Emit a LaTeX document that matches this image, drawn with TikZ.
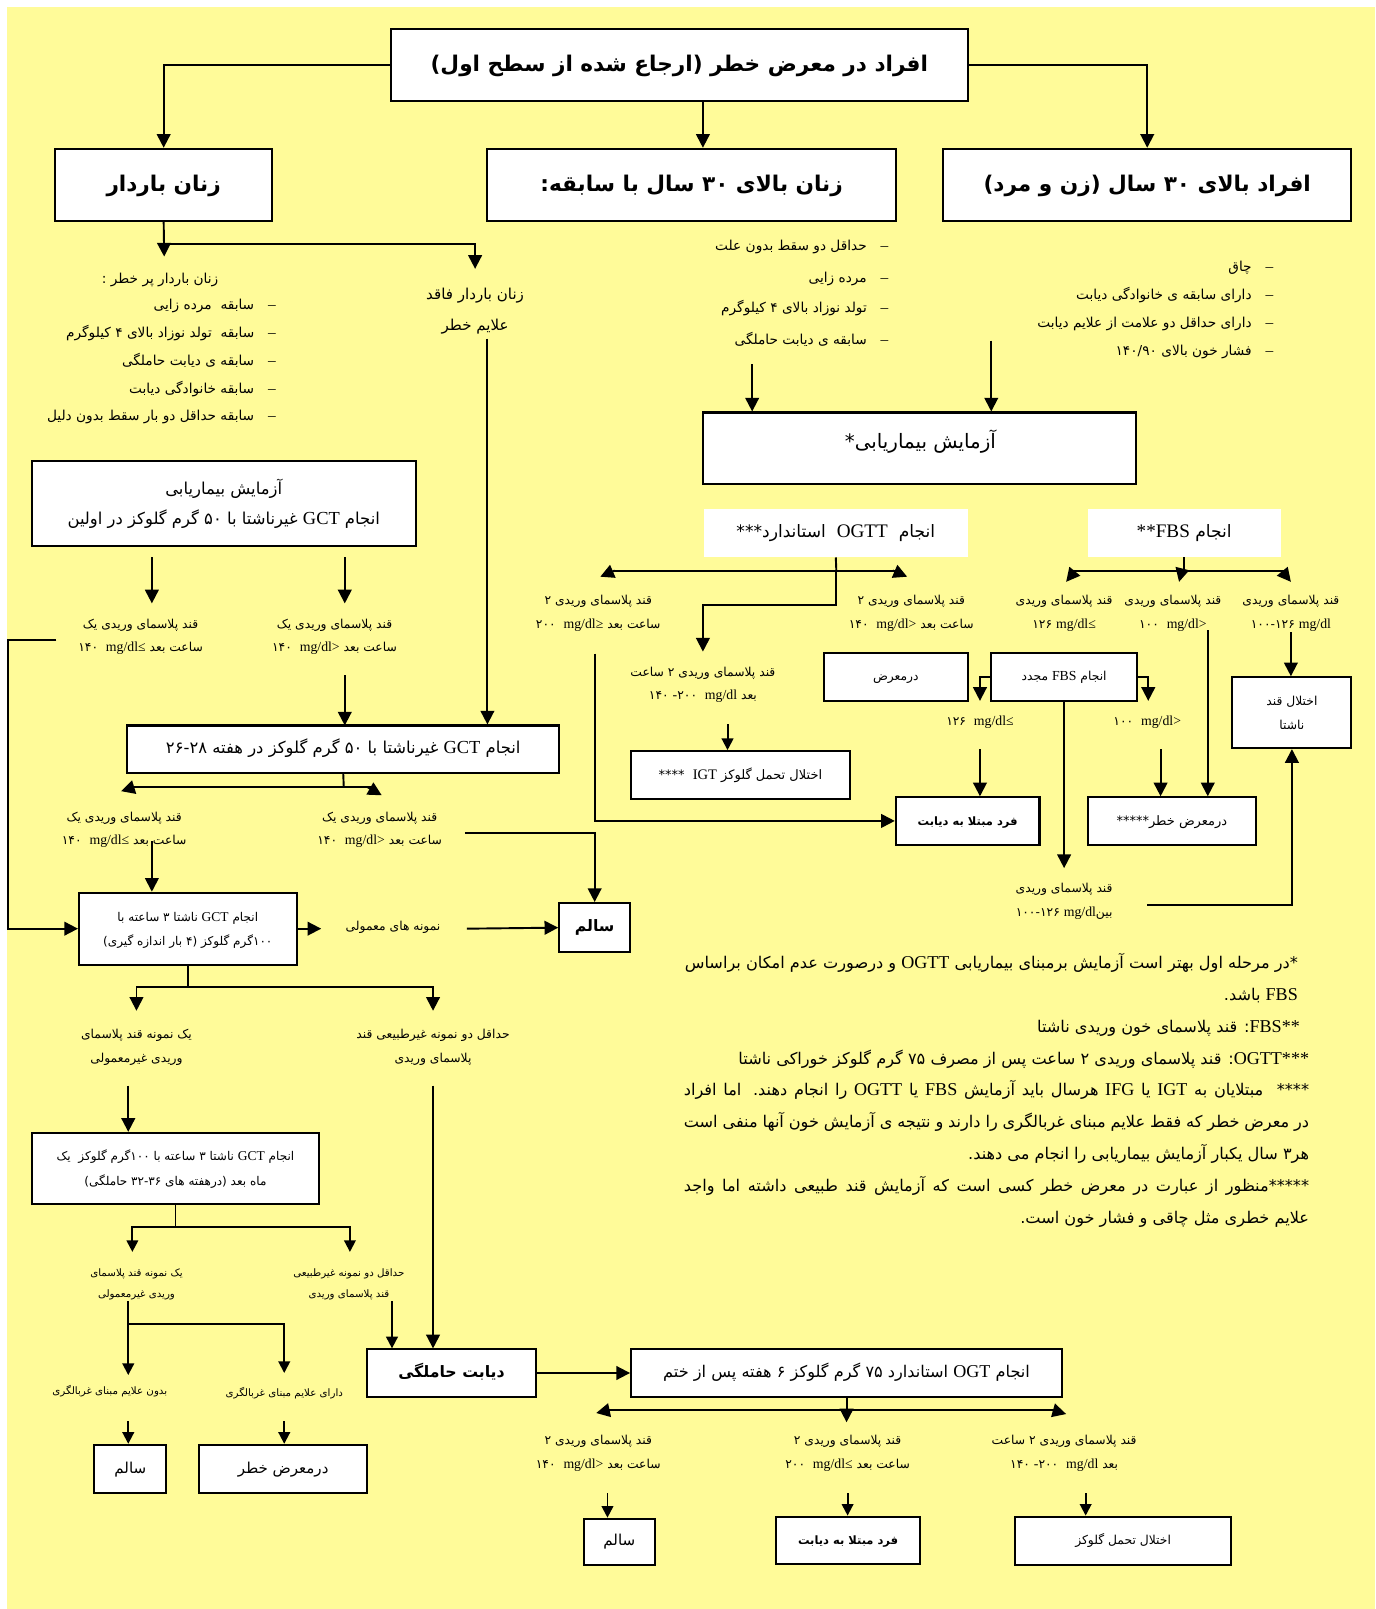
\documentclass[tikz,border=0pt]{standalone}
\usepackage{fontspec}
\usetikzlibrary{arrows.meta,calc}
\TeXXeTstate=1
\newfontfamily\fa[Script=Arabic]{DejaVu Sans}
\newfontfamily\lat{Liberation Serif}[Scale=1.12]
\newcommand\R[1]{\beginR#1\endR}
\newcommand\Lt[1]{\beginL#1\endL}
\newcommand\en[1]{\beginL{\lat#1}\endL}
\newcommand\fsz[2]{\fontsize{#1}{#2}\selectfont}
\newcommand\two[2]{\begin{tabular}{@{}c@{}}#1\\#2\end{tabular}}
\definecolor{bgy}{RGB}{255,251,153}
\newcommand\li[5]{\node[txt,font=\fa\fsz{10}{12}] (#1d) at (#2,#4) {{\lat –}}; \node[txt,anchor=east,font=\fa\fsz{10}{12}] (#1) at (#3,#4) {\R{#5}};}
\newcommand\bxn[7]{\node[#1, minimum width={(#5-#3)*0.75pt}, minimum height={(#6-#4)*0.75pt}] (#2) at ({(#3+#5)/2},{(#4+#6)/2}) {#7};}
\begin{document}
\begin{tikzpicture}[x=0.75pt,y=-0.75pt,
 bx/.style={draw, fill=white, line width=1.5pt, inner sep=0pt},
 wb/.style={fill=white, inner sep=0pt},
 txt/.style={inner sep=0pt, text height=0.65em, text depth=0.05em},
 one/.style={text height=0.65em, text depth=0.05em},
 fbig/.style={font=\fa\bfseries\fsz{15.8}{19}, text height=1.0em, text depth=0.05em},
 flab/.style={font=\fa\fsz{9}{17.2}},
 ftiny/.style={font=\fa\fsz{7.5}{15}},
 fnote/.style={font=\fa\fsz{11.8}{14}},
 ln/.style={line width=1.4pt},
 arr/.style={ln,-{Triangle[length=10pt,width=10pt]}},
 sarr/.style={ln,-{Triangle[length=8.5pt,width=8.5pt]}}]
\fill[white] (0,0) rectangle (1340,1568);
\fill[bgy] (6.5,6.5) rectangle (1340,1568);
\useasboundingbox (0,0) rectangle (1340,1568);

% top level
\bxn{bx, fbig}{T}{381}{28}{943}{98}{\R{افراد در معرض خطر (ارجاع شده از سطح اول)}}
\bxn{bx, fbig}{Zb}{54}{145}{265}{215}{\R{زنان باردار}}
\bxn{bx, fbig}{Z30}{475}{145}{873}{215}{\R{زنان بالای \Lt{۳۰} سال با سابقه:}}
\bxn{bx, fbig}{A30}{919}{145}{1317}{215}{\R{افراد بالای \Lt{۳۰} سال (زن و مرد)}}
\draw[arr] (T.west) -| (Zb.north);
\draw[arr] (685,0 |- T.south) -- (685,0 |- Z30.north);
\draw[arr] (T.east) -| (A30.north);

% pregnant branch
\coordinate (b1) at (160,238);
\draw[arr] (Zb.south) -- (160,250);
\draw[arr] (b1) -| (463,262);
\node[txt,anchor=east,font=\fa\fsz{10}{12}] (p0) at (213,272) {\R{زنان باردار پر خطر :}};
\li{p1}{265}{248}{298}{سابقه~~مرده زایی}
\li{p2}{265}{248}{325}{سابقه~~تولد نوزاد بالای \Lt{۴} کیلوگرم}
\li{p3}{265}{248}{352}{سابقه ی دیابت حاملگی}
\li{p4}{265}{248}{379}{سابقه خانوادگی دیابت}
\li{p5}{265}{248}{406}{سابقه حداقل دو بار سقط بدون دلیل}
\node[inner sep=0pt, font=\fa\fsz{11}{22.5}] (nr) at (463,301) {\two{\R{زنان باردار فاقد}}{\R{علایم خطر}}};

% Z30 list
\li{z1}{862}{845}{240}{حداقل دو سقط بدون علت}
\li{z2}{862}{845}{271}{مرده زایی}
\li{z3}{862}{845}{301}{تولد نوزاد بالای \Lt{۴} کیلوگرم}
\li{z4}{862}{845}{332}{سابقه ی دیابت حاملگی}
% A30 list
\li{a1}{1237}{1220}{261}{چاق}
\li{a2}{1237}{1220}{288}{دارای سابقه ی خانوادگی دیابت}
\li{a3}{1237}{1220}{315}{دارای حداقل دو علامت از علایم دیابت}
\li{a4}{1237}{1220}{342}{فشار خون بالای \Lt{۱۴۰/۹۰}}

% screening
\bxn{bx}{S}{685}{402}{1107}{472}{}
\node[txt, font=\fa\fsz{14.5}{16}] (St) at (897,433) {\R{آزمایش بیماریابی\Lt{*}}};
\draw[arr] (733,355) -- (733,0 |- S.north);
\draw[arr] (966,332) -- (966,0 |- S.north);
\bxn{wb, one, font=\fa\fsz{12.5}{14}}{og}{686}{496}{943}{543}{\R{انجام~~\en{OGTT}~~استاندارد\Lt{***}}}
\bxn{wb, one, font=\fa\fsz{12.5}{14}}{fb}{1060}{496}{1248}{543}{\R{انجام \en{**FBS}}}

% GCT1
\bxn{bx, font=\fa\fsz{12}{22.5}}{g1}{31}{449}{405}{532}{\two{\R{آزمایش بیماریابی}}{\R{انجام \en{GCT} غیرناشتا با \Lt{۵۰} گرم گلوکز در اولین}}}
\draw[arr] (148,543) -- (148,588);
\draw[arr] (336,543) -- (336,588);
\node[inner sep=0pt, flab] (l1) at (137,619) {\two{\R{قند پلاسمای وریدی یک}}{\R{ساعت بعد \Lt{۱۴۰~~\en{mg/dl≤}}}}};
\node[inner sep=0pt, flab] (l2) at (326,619) {\two{\R{قند پلاسمای وریدی یک}}{\R{ساعت بعد \Lt{۱۴۰~~\en{mg/dl>}}}}};
\draw[arr] (336,658) -- (336,707);

% GCT2
\bxn{bx, one, font=\fa\fsz{12}{14}}{g2}{124}{707}{545}{753}{\R{انجام \en{GCT} غیرناشتا با \Lt{۵۰} گرم گلوکز در هفته \Lt{۲۶-۲۸}}}
\draw[arr] (475,330) -- (475,0 |- g2.north);
\draw[ln] (g2.south) -- (335,767);
\draw[ln] (128,767) -- (362,767);
\draw[arr] (131,767) -- (118,771);
\draw[arr] (358,767) -- (372,775);
\node[inner sep=0pt, flab] (l3) at (121,807) {\two{\R{قند پلاسمای وریدی یک}}{\R{ساعت بعد \Lt{۱۴۰~~\en{mg/dl≤}}}}};
\node[inner sep=0pt, flab] (l4) at (370,807) {\two{\R{قند پلاسمای وریدی یک}}{\R{ساعت بعد \Lt{۱۴۰~~\en{mg/dl>}}}}};

% GCT3
\bxn{bx, font=\fa\fsz{8.8}{18}}{g3}{77}{870}{289}{940}{\two{\R{انجام \en{GCT} ناشتا \Lt{۳} ساعته با}}{\R{\Lt{۱۰۰}گرم گلوکز (\Lt{۴} بار اندازه گیری)}}}
\draw[arr] (148,820) -- (148,0 |- g3.north);
\draw[ln] (55,624) -- (8,624) -- (8,800);
\draw[arr] (8,800) |- (g3.west);
\bxn{bx, one, font=\fa\bfseries\fsz{11.5}{14}}{s1}{545}{880}{614}{928}{\R{سالم}}
\draw[arr] (453,812) -| (s1.north);
\draw[arr] (g3.east) -- (313,905);
\node[txt, flab] (nm) at (383,903) {\R{نمونه های معمولی}};
\draw[arr] (455,905) -- (s1.west);
\coordinate (c3) at (183,962);
\draw[ln] (g3.south) -- (c3);
\draw[arr] (c3) -| (133,985);
\draw[arr] (c3) -| (422,985);
\node[inner sep=0pt, flab] (l5) at (133,1019) {\two{\R{یک نمونه قند پلاسمای}}{\R{وریدی غیرمعمولی}}};
\node[inner sep=0pt, flab] (l6) at (422,1019) {\two{\R{حداقل دو نمونه غیرطبیعی قند}}{\R{پلاسمای وریدی}}};

% GCT4
\bxn{bx, font=\fa\fsz{8.8}{18}}{g4}{31}{1104}{311}{1173}{\two{\R{انجام \en{GCT} ناشتا \Lt{۳} ساعته با \Lt{۱۰۰}گرم گلوکز~~یک}}{\R{ماه بعد (درهفته های \Lt{۳۲-۳۶} حاملگی)}}}
\draw[arr] (125,1058) -- (125,0 |- g4.north);
\coordinate (c4) at (171,1196);
\draw[ln] (g4.south) -- (c4);
\draw[sarr] (c4) -| (129,1220);
\draw[sarr] (c4) -| (341,1220);
\node[inner sep=0pt, font=\fa\fsz{7.5}{15}] (l7) at (133,1250) {\two{\R{یک نمونه قند پلاسمای}}{\R{وریدی غیرمعمولی}}};
\node[inner sep=0pt, font=\fa\fsz{7.5}{15}] (l8) at (340,1250) {\two{\R{حداقل دو نمونه غیرطبیعی}}{\R{قند پلاسمای وریدی}}};
\draw[sarr] (125,1268) -- (125,1340);
\draw[sarr] (125,1290) -| (277,1338);
\node[txt, ftiny] (l9) at (107,1355) {\R{بدون علایم مبنای غربالگری}};
\node[txt, ftiny] (l10) at (277,1357) {\R{دارای علایم مبنای غربالگری}};
\bxn{bx, one, font=\fa\fsz{11}{14}}{s2}{92}{1408}{162}{1455}{\R{سالم}}
\bxn{bx, one, font=\fa\fsz{11}{14}}{rk}{194}{1408}{358}{1455}{\R{درمعرض خطر}}
\draw[sarr] (125,1385) -- (125,0 |- s2.north);
\draw[sarr] (277,1385) -- (277,0 |- rk.north);

% gestational diabetes
\bxn{bx, one, font=\fa\bfseries\fsz{11.5}{14}}{dh}{358}{1315}{522}{1361}{\R{دیابت حاملگی}}
\draw[arr] (422,1058) -- (422,0 |- dh.north);
\draw[sarr] (382,1268) -- (382,0 |- dh.north);
\bxn{bx, one, font=\fa\fsz{11.8}{14}}{ogt}{615}{1315}{1035}{1361}{\R{انجام \en{OGT} استاندارد \Lt{۷۵} گرم گلوکز \Lt{۶} هفته پس از ختم}}
\draw[arr] (dh.east) -- (ogt.west);
\draw[ln] (ogt.south) -- (825,1374);
\draw[arr] (825,1370) -- (825,1386);
\draw[ln] (592,1374) -- (1028,1374);
\draw[arr] (595,1374) -- (581,1377);
\draw[arr] (1025,1374) -- (1039,1378);
\node[inner sep=0pt, flab] (l11) at (583,1415) {\two{\R{قند پلاسمای وریدی \Lt{۲}}}{\R{ساعت بعد \Lt{۱۴۰~~\en{mg/dl>}}}}};
\node[inner sep=0pt, flab] (l12) at (826,1415) {\two{\R{قند پلاسمای وریدی \Lt{۲}}}{\R{ساعت بعد \Lt{۲۰۰~~\en{mg/dl≤}}}}};
\node[inner sep=0pt, flab] (l13) at (1037,1415) {\two{\R{قند پلاسمای وریدی \Lt{۲} ساعت}}{\R{بعد \Lt{۱۴۰ {\lat -}۲۰۰~~\en{mg/dl}}}}};
\bxn{bx, one, font=\fa\fsz{11}{14}}{s3}{569}{1480}{638}{1525}{\R{سالم}}
\bxn{bx, one, font=\fa\bfseries\fsz{8.4}{14}}{fm2}{756}{1478}{897}{1524}{\R{فرد مبتلا به دیابت}}
\bxn{bx, one, font=\fa\fsz{9}{14}}{ig2}{989}{1478}{1200}{1525}{\R{اختلال تحمل گلوکز}}
\draw[sarr] (592,1455) -- (592,0 |- s3.north);
\draw[sarr] (826,1455) -- (826,0 |- fm2.north);
\draw[sarr] (1058,1455) -- (1058,0 |- ig2.north);

% OGTT branch
\draw[ln] (og.south) -- (815,556);
\draw[ln] (597,556) -- (872,556);
\draw[arr] (599,556) -- (585,562);
\draw[arr] (870,556) -- (884,562);
\draw[arr] (815,556) -- (815,590) -| (685,635);
\node[inner sep=0pt, flab] (l14) at (583,596) {\two{\R{قند پلاسمای وریدی \Lt{۲}}}{\R{ساعت بعد \Lt{۲۰۰~~\en{mg/dl≥}}}}};
\node[inner sep=0pt, flab] (l15) at (888,596) {\two{\R{قند پلاسمای وریدی \Lt{۲}}}{\R{ساعت بعد \Lt{۱۴۰~~\en{mg/dl>}}}}};
\node[inner sep=0pt, flab] (l16) at (685,666) {\two{\R{قند پلاسمای وریدی \Lt{۲} ساعت}}{\R{بعد \Lt{۱۴۰ {\lat -}۲۰۰~~\en{mg/dl}}}}};
\bxn{bx, one, font=\fa\fsz{9.5}{14}}{ig1}{615}{732}{828}{779}{\R{اختلال تحمل گلوکز \en{IGT}~~\Lt{****}}}
\draw[sarr] (709,706) -- (709,0 |- ig1.north);
\bxn{bx, one, font=\fa\bfseries\fsz{8.4}{14}}{fm1}{873}{777}{1013}{823}{\R{فرد مبتلا به دیابت}}
\draw[arr] (580,637) |- (fm1.west);

% FBS branch
\draw[ln] (fb.south) -- (1154,556);
\draw[ln] (1046,556) -- (1251,556);
\draw[arr] (1048,556) -- (1039,567);
\draw[arr] (1152,555) -- (1149,567);
\draw[arr] (1249,556) -- (1258,567);
\node[inner sep=0pt, flab] (l17) at (1037,596) {\two{\R{قند پلاسمای وریدی}}{\Lt{۱۲۶ \en{mg/dl≤}}}};
\node[inner sep=0pt, flab] (l18) at (1143,596) {\two{\R{قند پلاسمای وریدی}}{\Lt{۱۰۰~~\en{mg/dl>}}}};
\node[inner sep=0pt, flab] (l19) at (1258,596) {\two{\R{قند پلاسمای وریدی}}{\Lt{۱۰۰-۱۲۶ \en{mg/dl}}}};
\bxn{bx, one, font=\fa\fsz{9}{14}}{dm}{803}{636}{943}{683}{\R{درمعرض}}
\bxn{bx, one, font=\fa\fsz{9}{14}}{fr}{966}{636}{1108}{683}{\R{انجام \en{FBS} مجدد}}
\bxn{bx, font=\fa\fsz{9}{17.3}}{ifg}{1201}{660}{1317}{729}{\two{\R{اختلال قند}}{\R{ناشتا}}}
\bxn{bx, one, font=\fa\fsz{9.5}{14}}{rk2}{1060}{777}{1224}{823}{\R{درمعرض خطر\Lt{*****}}}
\draw[arr] (fr.west) -- (955,0 |- fr.west) -- (955,683);
\draw[arr] (fr.east) -- (1119,0 |- fr.east) -- (1119,683);
\draw[arr] (fr.south) -- (1037,846);
\node[txt, flab] (m1) at (955,703) {\Lt{۱۲۶~~\en{mg/dl≤}}};
\node[txt, flab] (m2) at (1118,703) {\Lt{۱۰۰~~\en{mg/dl>}}};
\draw[arr] (955,730) -- (955,0 |- fm1.north);
\draw[arr] (1131,730) -- (1131,0 |- rk2.north);
\draw[arr] (1177,614) -- (1177,0 |- rk2.north);
\draw[arr] (1258,616) -- (1258,0 |- ifg.north);
\node[inner sep=0pt, flab] (l20) at (1037,877) {\two{\R{قند پلاسمای وریدی}}{\R{بین\Lt{۱۰۰-۱۲۶ \en{mg/dl}}}}};
\draw[arr] (1118,882) -| (ifg.south);

% footnotes
\node[txt,fnote,anchor=east] (f1) at (1265,940) {\makebox[448pt][s]{\R{*در مرحله اول بهتر است آزمایش برمبنای بیماریابی \en{OGTT} و درصورت عدم امکان براساس}}};
\node[txt,fnote,anchor=east] (f2) at (1265,971) {\R{\en{FBS} باشد.}};
\node[txt,fnote,anchor=east] (f3) at (1267,1002) {\R{\en{FBS**}: قند پلاسمای خون وریدی ناشتا}};
\node[txt,fnote,anchor=east] (f4) at (1276,1033) {\R{\en{OGTT***}: قند پلاسمای وریدی \Lt{۲} ساعت پس از مصرف \Lt{۷۵} گرم گلوکز خوراکی ناشتا}};
\node[txt,fnote,anchor=east] (f5) at (1276,1064) {\makebox[457pt][s]{\R{\Lt{****}~~مبتلایان به \en{IGT} یا \en{IFG} هرسال باید آزمایش \en{FBS} یا \en{OGTT} را انجام دهند. اما افراد}}};
\node[txt,fnote,anchor=east] (f6) at (1276,1095) {\makebox[457pt][s]{\R{در معرض خطر که فقط علایم مبنای غربالگری را دارند و نتیجه ی آزمایش خون آنها منفی است}}};
\node[txt,fnote,anchor=east] (f7) at (1276,1126) {\R{هر\Lt{۳} سال یکبار آزمایش بیماریابی را انجام می دهند.}};
\node[txt,fnote,anchor=east] (f8) at (1276,1157) {\makebox[457pt][s]{\R{\Lt{*****}منظور از عبارت در معرض خطر کسی است که آزمایش قند طبیعی داشته اما واجد}}};
\node[txt,fnote,anchor=east] (f9) at (1276,1188) {\R{علایم خطری مثل چاقی و فشار خون است.}};
\end{tikzpicture}
\end{document}
